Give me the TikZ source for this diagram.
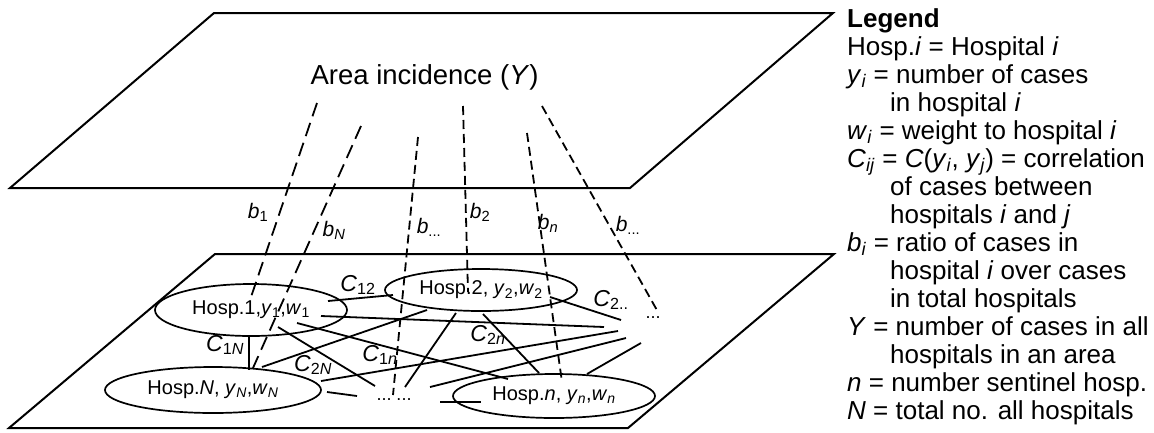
\documentclass[tikz,border=0pt]{standalone}
\usepackage{fontspec}
\setmainfont{Liberation Sans}
\usetikzlibrary{shapes.geometric}
\newcommand\fsz[1]{\fontsize{#1}{#1}\selectfont}
\newcommand\sub[1]{\textsubscript{#1}}
\begin{document}
\begin{tikzpicture}[x=1pt,y=-1pt,
  plane/.style={line width=2pt, line join=miter},
  link/.style={line width=1.8pt},
  proj/.style={line width=1.8pt, dash pattern=on 9pt off 5pt},
  projlong/.style={line width=1.8pt, dash pattern=on 14pt off 7pt},
  hosp/.style={ellipse, draw, line width=1.7pt, inner sep=0pt, font=\fsz{20}},
  blbl/.style={inner sep=0pt, font=\fsz{21}},
  clbl/.style={inner sep=0pt, font=\fsz{23}},
  dots/.style={inner sep=0pt, font=\fsz{18}},
  leg/.style={anchor=base west, inner sep=0pt, font=\fsz{26}}]

\useasboundingbox (0,0) rectangle (1154,432);

% the two planes
\draw[plane] (10,188) -- (214,13) -- (833,13) -- (630,188) -- cycle;
\draw[plane] (9,428) -- (215,254) -- (834,254) -- (628,428) -- cycle;

\node[anchor=base, inner sep=0pt, font=\fsz{27.5}] (area) at (424.5,84) {Area incidence (\textit{Y})};

% hospitals
\node[hosp, minimum width=192, minimum height=52] (h1) at (251,310) {Hosp.1,\textit{y}\sub{1},\textit{w}\sub{1}};
\node[hosp, minimum width=192, minimum height=42] (h2) at (481,290) {Hosp.2, \textit{y}\sub{2},\textit{w}\sub{2}};
\node[hosp, minimum width=216, minimum height=46] (hN) at (213,390) {Hosp.\textit{N}, \textit{y}\sub{\textit{N}},\textit{w}\sub{\textit{N}}};
\node[hosp, minimum width=202, minimum height=44] (hn) at (554,396) {Hosp.\textit{n}, \textit{y}\sub{\textit{n}},\textit{w}\sub{\textit{n}}};
\node[dots] (more) at (653,318) {...};
\node[dots] (rest) at (394,400) {...\ ...};

% end points of the correlation links
\coordinate (a1) at (328,301);  \coordinate (a2) at (393,295);
\coordinate (b1) at (321,316);  \coordinate (b2) at (604,327);
\coordinate (c1) at (297,323);  \coordinate (c2) at (508,379);
\coordinate (d1) at (278,327);  \coordinate (d2) at (375,386);
\coordinate (e1) at (249,337);  \coordinate (e2) at (249,370);
\coordinate (f1) at (262,367);  \coordinate (f2) at (427,310);
\coordinate (g1) at (456,313);  \coordinate (g2) at (405,387);
\coordinate (k1) at (483,314);  \coordinate (k2) at (539,373);
\coordinate (m1) at (550,297);  \coordinate (m2) at (621,320);
\coordinate (p1) at (321,381);  \coordinate (p2) at (618,331);
\coordinate (q1) at (430,387);  \coordinate (q2) at (626,338);
\coordinate (r1) at (587,374);  \coordinate (r2) at (641,343);
\coordinate (s1) at (327,392);  \coordinate (s2) at (357,396);
\coordinate (t1) at (440,402);  \coordinate (t2) at (481,402);

\foreach \u/\v in {a1/a2,b1/b2,c1/c2,d1/d2,e1/e2,f1/f2,g1/g2,k1/k2,m1/m2,p1/p2,q1/q2,r1/r2,s1/s2,t1/t2}
  \draw[link] (\u) -- (\v);

% projections from the area plane down to the hospitals
\coordinate (u1) at (317,103);  \coordinate (v1) at (251,297);
\coordinate (u2) at (361,126);  \coordinate (v2) at (253,368);
\coordinate (u3) at (418,137);  \coordinate (v3) at (393,395);
\coordinate (u4) at (463,106);  \coordinate (v4) at (468,292);
\coordinate (u5) at (527,133);  \coordinate (v5) at (562,382);
\coordinate (u6) at (542,106);  \coordinate (v6) at (658,312);

\draw[projlong] (u1) -- (v1);
\draw[projlong] (u2) -- (v2);
\foreach \i in {3,...,6}
  \draw[proj] (u\i) -- (v\i);

% ratio labels
\node[blbl] (lb1) at (258,212) {\textit{b}\sub{1}};
\node[blbl] (lbN) at (334,230) {\textit{b}\sub{\textit{N}}};
\node[blbl] (lbx) at (429,227) {\textit{b}\sub{...}};
\node[blbl] (lb2) at (480,212) {\textit{b}\sub{2}};
\node[blbl] (lbn) at (548,223) {\textit{b}\sub{\textit{n}}};
\node[blbl] (lby) at (628,225) {\textit{b}\sub{...}};

% correlation labels
\node[clbl] (l12) at (358,285) {\textit{C}\sub{12}};
\node[clbl] (l1N) at (225,345) {\textit{C}\sub{1\textit{N}}};
\node[clbl] (l2N) at (313,365) {\textit{C}\sub{2\textit{N}}};
\node[clbl] (l1n) at (380,355) {\textit{C}\sub{1\textit{n}}};
\node[clbl] (l2n) at (488,335) {\textit{C}\sub{2\textit{n}}};
\node[clbl] (l2x) at (611,300) {\textit{C}\sub{2..}};

% legend
\node[leg] at (847,27) {\textbf{Legend}};
\node[leg] at (847,55) {Hosp.\textit{i} = Hospital \textit{i}};
\node[leg] at (847,83) {\textit{y}\sub{\textit{i}} = number of cases};
\node[leg] at (890,111) {in hospital \textit{i}};
\node[leg] at (847,139) {\textit{w}\sub{\textit{i}} = weight to hospital \textit{i}};
\node[leg] at (847,167) {\textit{C}\sub{\textit{ij}} = \textit{C}(\textit{y}\sub{\textit{i}}, \textit{y}\sub{\textit{j}}) = correlation};
\node[leg] at (890,195) {of cases between};
\node[leg] at (890,223) {hospitals \textit{i} and \textit{j}};
\node[leg] at (847,251) {\textit{b}\sub{\textit{i}} = ratio of cases in};
\node[leg] at (890,279) {hospital \textit{i} over cases};
\node[leg] at (890,307) {in total hospitals};
\node[leg] at (847,335) {\textit{Y} = number of cases in all};
\node[leg] at (890,363) {hospitals in an area};
\node[leg] at (847,391) {\textit{n} = number sentinel hosp.};
\node[leg] at (847,419) {\textit{N} = total no. all hospitals};
\end{tikzpicture}
\end{document}
